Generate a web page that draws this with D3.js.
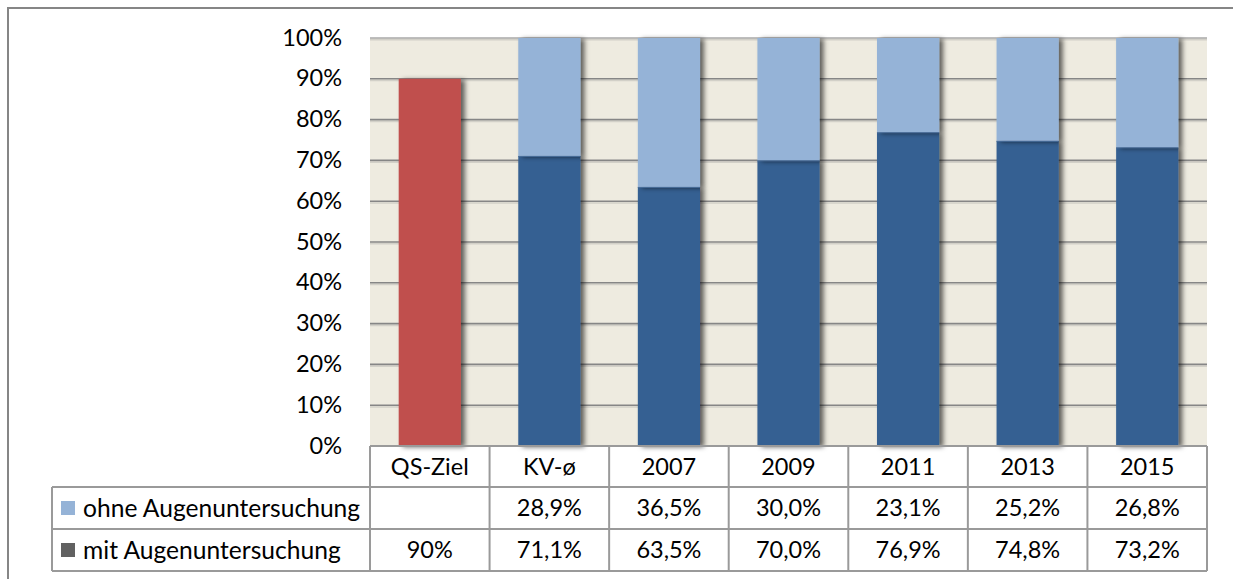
<!DOCTYPE html>
<html>
<head>
<meta charset="utf-8">
<script src="https://cdnjs.cloudflare.com/ajax/libs/d3/7.8.5/d3.min.js"></script>
<style>
  body { margin: 0; background: #fff; }
  svg { display: block; }
  text { font-family: Lato, "Open Sans", sans-serif; fill: #000; }
</style>
</head>
<body>
<div id="chart"></div>
<script>
var categories = ["QS-Ziel", "KV-ø", "2007", "2009", "2011", "2013", "2015"];
var mitValues = [90, 71.1, 63.5, 70.0, 76.9, 74.8, 73.2];
var ohneValues = [null, 28.9, 36.5, 30.0, 23.1, 25.2, 26.8];
var mitLabels = ["90%", "71,1%", "63,5%", "70,0%", "76,9%", "74,8%", "73,2%"];
var ohneLabels = ["", "28,9%", "36,5%", "30,0%", "23,1%", "25,2%", "26,8%"];
var yTicks = [0, 10, 20, 30, 40, 50, 60, 70, 80, 90, 100];
var seriesNames = ["ohne Augenuntersuchung", "mit Augenuntersuchung"];

var W = 1233, H = 579;
var plot = { left: 370, right: 1207, top: 38, bottom: 446 };
var rowH = [41, 42, 42];
var legendLeft = 52;
var fontSize = 23.5;
var legendFontSize = 24.6;

var svg = d3.select("#chart").append("svg")
  .attr("width", W)
  .attr("height", H);

var defs = svg.append("defs");
var shadow = defs.append("filter")
  .attr("id", "shadow")
  .attr("x", "-20%").attr("y", "-20%")
  .attr("width", "150%").attr("height", "150%");
shadow.append("feDropShadow")
  .attr("dx", 4).attr("dy", 1)
  .attr("stdDeviation", 2.6)
  .attr("flood-color", "#000")
  .attr("flood-opacity", 0.6);

// outer frame (only left and top visible)
svg.append("path")
  .attr("d", "M8," + (H + 5) + "V8H" + (W + 5))
  .attr("fill", "none")
  .attr("stroke", "#868686")
  .attr("stroke-width", 2);

var x = d3.scaleBand()
  .domain(categories)
  .range([plot.left, plot.right])
  .paddingInner(0.48)
  .paddingOuter(0.24);

var y = d3.scaleLinear()
  .domain([0, 100])
  .range([plot.bottom, plot.top]);

var step = x.step();

// plot background
svg.append("rect")
  .attr("x", plot.left)
  .attr("y", plot.top)
  .attr("width", plot.right - plot.left)
  .attr("height", plot.bottom - plot.top)
  .attr("fill", "#EEEBE0");

// gridlines with a soft line underneath
var grid = svg.append("g");
var gridTicks = yTicks.filter(function (d) { return d > 0; });
grid.selectAll("line.soft")
  .data(gridTicks)
  .enter()
  .append("line")
  .attr("class", "soft")
  .attr("x1", plot.left)
  .attr("x2", plot.right)
  .attr("y1", function (d) { return y(d) + 1.8; })
  .attr("y2", function (d) { return y(d) + 1.8; })
  .attr("stroke", "#d2d0c8")
  .attr("stroke-width", 1.5);
grid.selectAll("line.main")
  .data(gridTicks)
  .enter()
  .append("line")
  .attr("class", "main")
  .attr("x1", plot.left)
  .attr("x2", plot.right)
  .attr("y1", function (d) { return y(d); })
  .attr("y2", function (d) { return y(d); })
  .attr("stroke", function (d) { return d === 100 ? "#a8a8a8" : "#868686"; })
  .attr("stroke-width", 1.6);

// bars
var bars = svg.append("g");
bars.selectAll("rect.mit")
  .data(categories)
  .enter()
  .append("rect")
  .attr("class", "mit")
  .attr("x", function (d) { return x(d); })
  .attr("width", x.bandwidth())
  .attr("y", function (d, i) { return y(mitValues[i]); })
  .attr("height", function (d, i) { return y(0) - y(mitValues[i]); })
  .attr("fill", function (d, i) { return i === 0 ? "#C0504D" : "#366092"; })
  .attr("filter", "url(#shadow)");

bars.selectAll("rect.ohne")
  .data(categories.filter(function (d, i) { return ohneValues[i] !== null; }))
  .enter()
  .append("rect")
  .attr("class", "ohne")
  .attr("x", function (d) { return x(d); })
  .attr("width", x.bandwidth())
  .attr("y", function (d) {
    var i = categories.indexOf(d);
    return y(mitValues[i] + ohneValues[i]);
  })
  .attr("height", function (d) {
    var i = categories.indexOf(d);
    return y(mitValues[i]) - y(mitValues[i] + ohneValues[i]);
  })
  .attr("fill", "#95B3D7")
  .attr("filter", "url(#shadow)");

// dark line at stack boundary
bars.selectAll("line.sep")
  .data(categories.filter(function (d, i) { return ohneValues[i] !== null; }))
  .enter()
  .append("line")
  .attr("x1", function (d) { return x(d); })
  .attr("x2", function (d) { return x(d) + x.bandwidth(); })
  .attr("y1", function (d) { return y(mitValues[categories.indexOf(d)]) + 0.5; })
  .attr("y2", function (d) { return y(mitValues[categories.indexOf(d)]) + 0.5; })
  .attr("stroke", "#4a6f9c")
  .attr("stroke-width", 1);

// y axis labels
var yAxis = d3.axisLeft(y)
  .tickValues(yTicks)
  .tickSize(0)
  .tickPadding(0)
  .tickFormat(function (d) { return d + "%"; });
var yg = svg.append("g")
  .attr("transform", "translate(" + (plot.left - 28) + ",0)")
  .call(yAxis);
yg.select(".domain").remove();
yg.selectAll("text")
  .attr("font-size", fontSize)
  .attr("font-family", "Lato, 'Open Sans', sans-serif")
  .attr("fill", "#000")
  .attr("dy", "0.3em");

// data table
var table = svg.append("g");
var rowTop = [plot.bottom, plot.bottom + rowH[0], plot.bottom + rowH[0] + rowH[1]];
var tableBottom = rowTop[2] + rowH[2];
var borderColor = "#9a9a9a";

function colLeft(i) { return plot.left + i * step; }

// horizontal lines
table.append("line")
  .attr("x1", plot.left).attr("x2", plot.right)
  .attr("y1", rowTop[0]).attr("y2", rowTop[0]);
[rowTop[1], rowTop[2], tableBottom].forEach(function (yy) {
  table.append("line")
    .attr("x1", legendLeft).attr("x2", plot.right)
    .attr("y1", yy).attr("y2", yy);
});
// vertical lines
d3.range(categories.length + 1).forEach(function (i) {
  table.append("line")
    .attr("x1", colLeft(i)).attr("x2", colLeft(i))
    .attr("y1", rowTop[0]).attr("y2", tableBottom);
});
table.append("line")
  .attr("x1", legendLeft).attr("x2", legendLeft)
  .attr("y1", rowTop[1]).attr("y2", tableBottom);
table.selectAll("line")
  .attr("stroke", borderColor)
  .attr("stroke-width", 2);

// category header row
table.selectAll("text.cat")
  .data(categories)
  .enter()
  .append("text")
  .attr("class", "cat")
  .attr("x", function (d) { return x(d) + x.bandwidth() / 2; })
  .attr("y", rowTop[0] + rowH[0] / 2)
  .attr("dy", "0.36em")
  .attr("text-anchor", "middle")
  .attr("font-size", fontSize)
  .text(function (d) { return d; });

var rows = [
  { labels: ohneLabels, name: seriesNames[0], color: "#95B3D7", top: rowTop[1], h: rowH[1] },
  { labels: mitLabels, name: seriesNames[1], color: "#616161", top: rowTop[2], h: rowH[2] }
];

rows.forEach(function (row) {
  table.append("rect")
    .attr("x", legendLeft + 9)
    .attr("y", row.top + row.h / 2 - 7)
    .attr("width", 14)
    .attr("height", 14)
    .attr("fill", row.color);
  table.append("text")
    .attr("x", legendLeft + 31)
    .attr("y", row.top + row.h / 2)
    .attr("dy", "0.36em")
    .attr("font-size", legendFontSize)
    .text(row.name);
  table.selectAll(null)
    .data(categories)
    .enter()
    .append("text")
    .attr("x", function (d) { return x(d) + x.bandwidth() / 2; })
    .attr("y", row.top + row.h / 2)
    .attr("dy", "0.36em")
    .attr("text-anchor", "middle")
    .attr("font-size", fontSize)
    .text(function (d, i) { return row.labels[i]; });
});
</script>
</body>
</html>
